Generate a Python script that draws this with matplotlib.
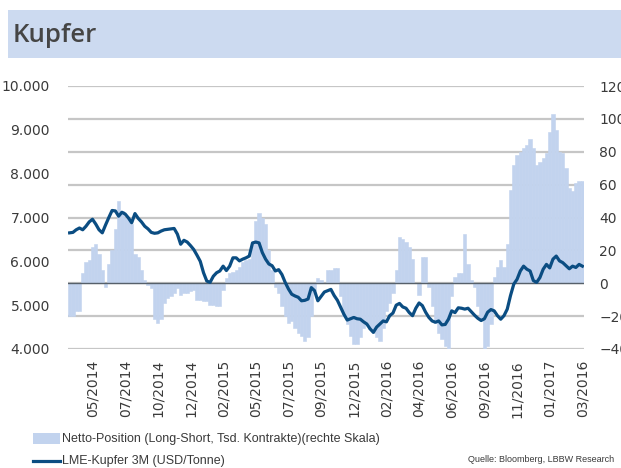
import matplotlib
matplotlib.use("Agg")
import matplotlib.pyplot as plt
from matplotlib.patches import Rectangle
from matplotlib.lines import Line2D
import numpy as np

# Weekly data, mid-March 2014 to March 2017
net_position = [
    -20, -20, -17, -17, 6, 13, 14, 22, 24, 18,
    8, -2, 12, 20, 33, 50, 44, 40, 40, 36,
    18, 16, 8, 2, -1, -3, -22, -24, -22, -12,
    -9, -8, -6, -3, -7, -6, -6, -5, -4, -10,
    -10, -11, -11, -13, -13, -14, -14, -4, 3, 6,
    7, 8, 10, 13, 14, 15, 24, 38, 43, 40,
    36, 20, 8, -2, -6, -14, -20, -24, -23, -27,
    -30, -32, -35, -33, -20, -4, 3, 2, 0, 8,
    8, 9, 9, -8, -20, -25, -32, -37, -37, -33,
    -27, -25, -28, -30, -33, -35, -27, -17, -12, -6,
    8, 28, 27, 25, 22, 15, 0, -7, 16, 16,
    -2, -14, -24, -30, -34, -38, -40, -8, 4, 6,
    6, 30, 12, 2, -2, -14, -22, -40, -38, -25,
    4, 10, 14, 10, 24, 57, 72, 78, 80, 82,
    84, 88, 82, 72, 74, 76, 79, 92, 103, 93,
    80, 79, 70, 58, 56, 61, 62, 62,
]

copper_price = [
    6650, 6660, 6720, 6760, 6720, 6800, 6900, 6960, 6850, 6720,
    6650, 6830, 7000, 7160, 7150, 7030, 7120, 7080, 6990, 6880,
    7090, 6980, 6900, 6800, 6740, 6660, 6640, 6650, 6690, 6720,
    6730, 6740, 6750, 6620, 6390, 6480, 6440, 6360, 6270, 6140,
    6000, 5740, 5550, 5520, 5660, 5740, 5780, 5890, 5790, 5890,
    6080, 6080, 6010, 6050, 6080, 6120, 6420, 6440, 6420, 6200,
    6050, 5940, 5900, 5780, 5810, 5700, 5520, 5370, 5250, 5210,
    5180, 5100, 5110, 5140, 5400, 5330, 5100, 5200, 5300, 5330,
    5360, 5220, 5110, 4950, 4790, 4660, 4690, 4720, 4690, 4680,
    4620, 4570, 4460, 4380, 4500, 4570, 4640, 4620, 4760, 4820,
    5000, 5040, 4960, 4930, 4830, 4760, 4930, 5050, 4990, 4840,
    4720, 4640, 4610, 4640, 4550, 4560, 4680, 4870, 4830, 4940,
    4930, 4910, 4930, 4850, 4770, 4700, 4650, 4690, 4840, 4900,
    4870, 4760, 4680, 4760, 4910, 5220, 5480, 5590, 5780, 5890,
    5820, 5780, 5560, 5520, 5630, 5820, 5930, 5850, 6050, 6120,
    6010, 5970, 5900, 5830, 5890, 5860, 5930, 5890,
]

tick_labels = ["05/2014", "07/2014", "10/2014", "12/2014", "02/2015", "05/2015",
               "07/2015", "09/2015", "12/2015", "02/2016", "04/2016", "06/2016",
               "09/2016", "11/2016", "01/2017", "03/2016"]
tick_weeks = list(range(7, 158, 10))

right_ticks = [-40, -20, 0, 20, 40, 60, 80, 100, 120]
left_ticks = [4000, 5000, 6000, 7000, 8000, 9000, 10000]

BAR_COLOR = "#C2D3EE"
LINE_COLOR = "#0B4D82"
TEXT_COLOR = "#3a3a3a"

fig = plt.figure(figsize=(6.21, 4.68), dpi=100)
W, H = 621, 468

# Title band
fig.patches.append(Rectangle((8 / W, 1 - 58 / H), 1 - 8 / W, 48 / H,
                             transform=fig.transFigure, facecolor="#CCDAF0",
                             edgecolor="none", zorder=0))
fig.text(13 / W, 1 - 35 / H, "Kupfer", fontsize=18.5, fontweight="semibold",
         family=["Open Sans", "DejaVu Sans"], color="#454545", va="center", ha="left")

x = np.arange(len(net_position))

# Net position bars (right scale)
ax = fig.add_axes([68 / W, 1 - 349 / H, (584 - 68) / W, (349 - 86) / H])
ax.bar(x, net_position, width=1.0, color=BAR_COLOR, edgecolor=BAR_COLOR,
       linewidth=0.4, zorder=2)
ax.set_ylim(-40, 120)
ax.set_xlim(-0.5, len(net_position) - 0.5)
ax.grid(axis="y", color="#C6C6C6", lw=1.6, zorder=1)
ax.set_axisbelow(True)
ax.axhline(0, color="#56606a", lw=1.0, zorder=3)
ax.set_xticks(tick_weeks)
ax.set_xticklabels(tick_labels, rotation=90)
for s in ax.spines.values():
    s.set_visible(False)

# Copper price line (left scale)
ax2 = ax.twinx()
ax2.plot(x, copper_price, color=LINE_COLOR, lw=2.3, solid_joinstyle="round", zorder=4)
ax2.set_ylim(4000, 10000)
for s in ax2.spines.values():
    s.set_visible(False)

ax.yaxis.tick_right()
ax.set_yticks(right_ticks)
ax2.yaxis.tick_left()
ax2.set_yticks(left_ticks)
ax2.set_yticklabels([f"{v:,}".replace(",", ".") for v in left_ticks])

ax.tick_params(axis="both", length=0, labelsize=10, labelcolor=TEXT_COLOR)
ax.tick_params(axis="y", pad=11)
ax.tick_params(axis="x", pad=8)
ax2.tick_params(axis="both", length=0, labelsize=10, labelcolor=TEXT_COLOR)
ax2.tick_params(axis="y", pad=13)

# Legend
leg_font = ["Liberation Sans", "DejaVu Sans"]
fig.patches.append(Rectangle((33 / W, 1 - 444 / H), 27 / W, 11 / H,
                             transform=fig.transFigure, facecolor=BAR_COLOR,
                             edgecolor="none"))
fig.text(62 / W, 1 - 439 / H, "Netto-Position (Long-Short, Tsd. Kontrakte)(rechte Skala)",
         fontsize=9, family=leg_font, color=TEXT_COLOR, va="center", ha="left")
fig.lines.append(Line2D([33 / W, 60 / W], [1 - 461 / H, 1 - 461 / H],
                        transform=fig.transFigure, color=LINE_COLOR, lw=2.3))
fig.text(62 / W, 1 - 461 / H, "LME-Kupfer 3M (USD/Tonne)",
         fontsize=9, family=leg_font, color=TEXT_COLOR, va="center", ha="left")
fig.text(468 / W, 1 - 460 / H, "Quelle: Bloomberg, LBBW Research",
         fontsize=6.5, family=leg_font, color=TEXT_COLOR, va="center", ha="left")

fig.savefig("out.png", dpi=100)
